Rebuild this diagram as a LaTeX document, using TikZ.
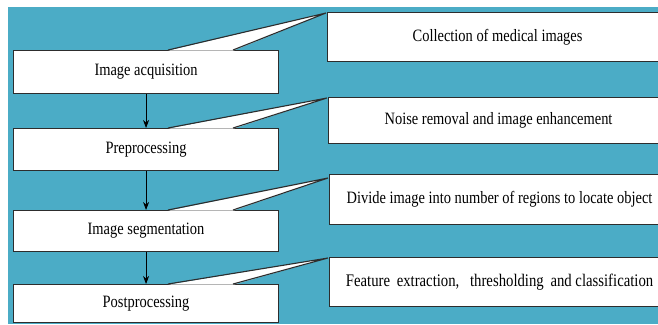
\documentclass[tikz,border=0pt]{standalone}
\usepackage{graphicx}
\usepackage{fontspec}
\setmainfont{Liberation Serif}
\usetikzlibrary{arrows.meta,calc}
\definecolor{bgteal}{RGB}{75,172,198}
\definecolor{edgegray}{RGB}{45,45,45}
\newcommand\talltext[1]{\scalebox{1}[1.2]{#1}}
\begin{document}
\begin{tikzpicture}[x=1bp,y=-1bp,
  box/.style={draw=edgegray, line width=1.1bp, fill=white, anchor=north west, inner sep=0pt,
              font=\fontsize{14.5}{17}\selectfont},
  leftbox/.style={box, minimum width=265bp},
  rightbox/.style={box, minimum width=340bp},
  flow/.style={-{Stealth[length=8bp,width=6bp]}, line width=0.8bp, black},
  wedgefill/.style={fill=white},
  wedgeline/.style={draw=edgegray, line width=1.1bp, line join=miter},
]
\useasboundingbox (0,0) rectangle (658,324);
\clip (0,0) rectangle (658,324);
\fill[white] (0,0) rectangle (658,324);
\fill[bgteal] (8,7) rectangle (658,324);

% left process boxes
\node[leftbox, minimum height=43bp] (L1) at (13,50) {\talltext{Image acquisition}};
\node[leftbox, minimum height=42bp] (L2) at (13,128) {\talltext{Preprocessing}};
\node[leftbox, minimum height=41bp] (L3) at (13,210) {\talltext{Image segmentation}};
\node[leftbox, minimum height=38bp] (L4) at (13,284) {\talltext{Postprocessing}};

% right description boxes
\node[rightbox, minimum height=49bp] (R1) at (327,12) {\talltext{Collection of medical images}};
\node[rightbox, minimum height=46bp] (R2) at (328,97) {\talltext{Noise removal and image enhancement}};
\node[rightbox, minimum height=50bp] (R3) at (329,174) {\talltext{Divide image into number of regions to locate object}};
\node[rightbox, minimum height=49bp, font=\fontsize{14.8}{17}\selectfont] (R4) at (329,257)
  {\talltext{Feature\hspace{3bp} extraction,\hspace{7bp} thresholding\hspace{3bp} and classification}};

% callout wedges
\foreach \k/\dy in {1/1,2/1,3/4,4/1}{
  \coordinate (a\k) at ($(L\k.north west)+(155,0)$);
  \coordinate (b\k) at ($(L\k.north west)+(220,0)$);
  \coordinate (t\k) at ($(R\k.north west)+(-1,\dy)$);
  \fill[wedgefill] ($(a\k)+(0,0.7)$) -- (t\k) -- ($(b\k)+(0,0.7)$) -- cycle;
  \draw[wedgeline] (a\k) -- (t\k) -- (b\k);
}

% flow arrows
\draw[flow] (L1) -- (L2);
\draw[flow] (L2) -- (L3);
\draw[flow] (L3) -- (L4);
\end{tikzpicture}
\end{document}
